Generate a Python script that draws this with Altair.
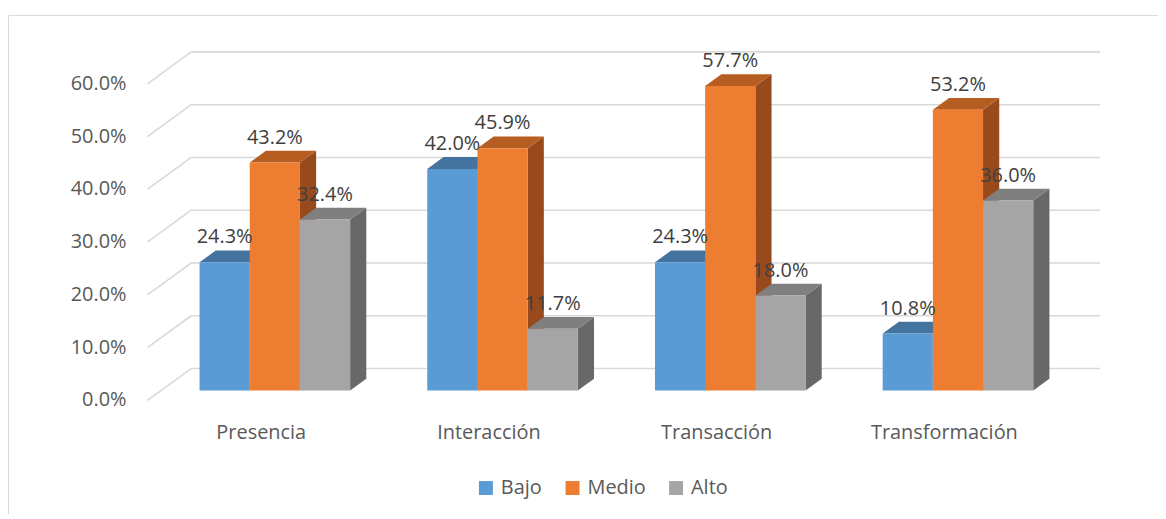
import altair as alt
import pandas as pd

# ---- data ----
categorias = ["Presencia", "Interacción", "Transacción", "Transformación"]
series = ["Bajo", "Medio", "Alto"]
bajo = [24.3, 42.0, 24.3, 10.8]
medio = [43.2, 45.9, 57.7, 53.2]
alto = [32.4, 11.7, 18.0, 36.0]
ticks = [0, 10, 20, 30, 40, 50, 60]
tick_labels = ["0.0%", "10.0%", "20.0%", "30.0%", "40.0%", "50.0%", "60.0%"]

front_colors = ["#5B9BD5", "#ED7D31", "#A5A5A5"]
top_colors = ["#44739F", "#B65E22", "#7F7F7F"]
side_colors = ["#3A6590", "#984A1C", "#686868"]

# ---- layout (3D oblique projection) ----
W, H = 1155, 500
PXPCT = 5.3          # pixels per percent
Y0 = 387             # plot-pixel y of the front floor line
X_LEFT, X_RIGHT = 140, 1053
DX = 44              # horizontal shift of the full depth
DY = 32 / PXPCT      # vertical shift of the full depth (in % units)
Z_F, Z_B = 0.31, 0.68
slot = 228.7
bw = 50.4
ydom = [-(H - Y0) / PXPCT, Y0 / PXPCT]

values = [bajo, medio, alto]

grid_rows = []
for k, v in enumerate(ticks):
    grid_rows += [
        {"seg": f"d{k}", "x": X_LEFT, "y": v},
        {"seg": f"d{k}", "x": X_LEFT + DX, "y": v + DY},
        {"seg": f"b{k}", "x": X_LEFT + DX, "y": v + DY},
        {"seg": f"b{k}", "x": X_RIGHT + DX, "y": v + DY},
    ]
grid = pd.DataFrame(grid_rows)

front_rows, side_rows, top_rows, lab_rows = [], [], [], []
for i, cat in enumerate(categorias):
    for j, s in enumerate(series):
        v = values[j][i]
        L = X_LEFT + slot * (i + 0.5) - 1.5 * bw + j * bw
        R = L + bw
        bid = f"{i}-{j}"
        a, b = Z_F * DX, Z_B * DX
        f, g = Z_F * DY, Z_B * DY
        front_rows.append({"serie": s, "x": L + a, "x2": R + a, "y": f, "y2": v + f})
        side_rows += [
            {"id": bid, "c": side_colors[j], "x": R + a, "y": f, "y2": v + f},
            {"id": bid, "c": side_colors[j], "x": R + b, "y": g, "y2": v + g},
        ]
        top_rows += [
            {"id": bid, "c": top_colors[j], "x": L + a, "y": v + f, "y2": v + f},
            {"id": bid, "c": top_colors[j], "x": L + b, "y": v + f, "y2": v + g},
            {"id": bid, "c": top_colors[j], "x": R + a, "y": v + f, "y2": v + g},
            {"id": bid, "c": top_colors[j], "x": R + b, "y": v + g, "y2": v + g},
        ]
        lab_rows.append({"x": (L + R) / 2 + a, "y": v + f, "t": f"{v:.1f}%"})

front = pd.DataFrame(front_rows)
side = pd.DataFrame(side_rows)
top = pd.DataFrame(top_rows)
labs = pd.DataFrame(lab_rows)
cats = pd.DataFrame({"x": [X_LEFT + slot * (i + 0.5) for i in range(len(categorias))],
                     "y": [0] * len(categorias), "t": categorias})
ylabs = pd.DataFrame({"x": [X_LEFT] * len(ticks), "y": ticks, "t": tick_labels})

xs = alt.Scale(domain=[0, W], nice=False, zero=False)
ys = alt.Scale(domain=ydom, nice=False, zero=False)
X = lambda f="x": alt.X(f"{f}:Q", scale=xs, axis=None)
Y = lambda f="y": alt.Y(f"{f}:Q", scale=ys, axis=None)

FONT = "Open Sans"

frame_top = alt.Chart(pd.DataFrame({"k": [0]})).mark_rule(color="#D9D9D9", strokeWidth=1).encode(
    x=alt.value(0.5), x2=alt.value(W + 20), y=alt.value(0.5))
frame_left = alt.Chart(pd.DataFrame({"k": [0]})).mark_rule(color="#D9D9D9", strokeWidth=1).encode(
    x=alt.value(0.5), y=alt.value(0.5), y2=alt.value(H + 20))

grid_layer = alt.Chart(grid).mark_line(color="#D9D9D9", strokeWidth=1.6).encode(
    x=X(), y=Y(), detail="seg:N")

side_layer = alt.Chart(side).mark_area(interpolate="linear").encode(
    x=X(), y=Y(), y2="y2:Q", detail="id:N",
    color=alt.Color("c:N", scale=None))

top_layer = alt.Chart(top).mark_area(interpolate="linear").encode(
    x=X(), y=Y(), y2="y2:Q", detail="id:N",
    color=alt.Color("c:N", scale=None))

front_layer = alt.Chart(front).mark_rect().encode(
    x=X(), x2="x2:Q", y=Y(), y2="y2:Q",
    color=alt.Color("serie:N", scale=alt.Scale(domain=series, range=front_colors),
                    legend=alt.Legend(orient="none", legendX=470, legendY=465,
                                      direction="horizontal", title=None,
                                      symbolType="square", symbolSize=196,
                                      symbolStrokeWidth=0, gridAlign="each",
                                      labelFont=FONT, labelFontSize=20,
                                      labelColor="#595959", columnPadding=20,
                                      labelOffset=5, padding=0)))

lab_layer = alt.Chart(labs).mark_text(font=FONT, fontSize=20, color="#404040",
                                      baseline="alphabetic", dy=-19).encode(
    x=X(), y=Y(), text="t:N")

cat_layer = alt.Chart(cats).mark_text(font=FONT, fontSize=20, color="#595959",
                                      baseline="middle", dy=33).encode(
    x=X(), y=Y(), text="t:N")

ylab_layer = alt.Chart(ylabs).mark_text(font=FONT, fontSize=20, color="#595959",
                                        baseline="middle", align="right", dx=-21).encode(
    x=X(), y=Y(), text="t:N")

chart = alt.layer(
    frame_top, frame_left, grid_layer, side_layer, top_layer, front_layer,
    lab_layer, cat_layer, ylab_layer
).resolve_scale(color="independent").properties(
    width=W, height=H,
    autosize=alt.AutoSizeParams(type="none"),
    padding={"left": 0, "top": 6, "right": 0, "bottom": 0},
).configure_view(stroke=None)

chart.save("out.html", embed_options={"renderer": "svg", "actions": False})
